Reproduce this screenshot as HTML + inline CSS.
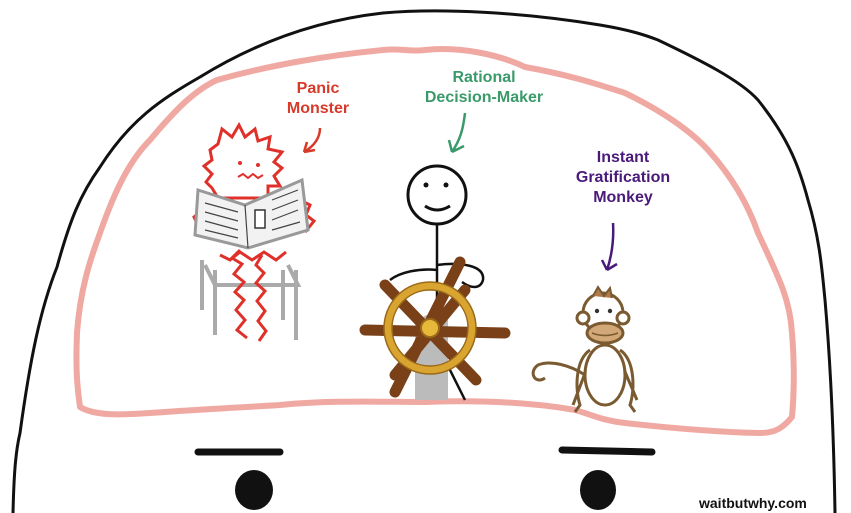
<!DOCTYPE html>
<html><head><meta charset="utf-8"><style>
html,body{margin:0;padding:0;background:#fff;}
svg{display:block}
text{font-family:"Liberation Sans",sans-serif;font-weight:bold;}
</style></head><body>
<svg width="851" height="513" viewBox="0 0 851 513" xmlns="http://www.w3.org/2000/svg">
<rect width="851" height="513" fill="#fff"/>
<!-- head -->
<path d="M13,513 C14,470 16,450 20,433 C30,360 40,310 57,267 C70,220 80,195 100,167 C130,120 160,100 200,77 C260,40 320,20 383,13 C440,8 520,12 600,25 C630,30 645,35 658,40 C700,60 740,80 758,100 C790,140 800,170 808,200 C820,240 822,270 825,300 C832,380 834,450 835,513" fill="none" stroke="#111" stroke-width="3"/>
<!-- brain -->
<path d="M80,407 C76,380 76,360 77,333 C80,290 90,260 100,233 C115,190 130,160 150,140 C175,110 195,90 217,80 C270,65 330,55 383,50 C400,48 410,52 425,50 C460,46 500,55 525,67 C570,75 600,85 625,93 C660,110 690,130 708,150 C735,180 750,210 758,233 C780,280 790,300 792,333 C795,370 794,395 792,417 C780,432 770,433 758,433 C720,432 670,428 625,423 C600,420 590,414 575,410 C530,402 480,400 425,402 C380,402 330,400 280,405 C230,408 190,410 150,413 C120,415 95,416 80,407 Z" fill="none" stroke="#f0a9a2" stroke-width="6" stroke-linejoin="round"/>
<!-- eyebrows -->
<path d="M198,452 L280,452" stroke="#111" stroke-width="7" stroke-linecap="round"/>
<path d="M562,450 L652,452" stroke="#111" stroke-width="7" stroke-linecap="round"/>
<!-- eyes -->
<ellipse cx="254" cy="490" rx="19" ry="20" fill="#111"/>
<ellipse cx="598" cy="490" rx="18" ry="20" fill="#111"/>
<text x="699" y="508" font-size="14" fill="#111">waitbutwhy.com</text>
<!-- labels -->
<text x="318" y="93" font-size="16" fill="#d83a2a" text-anchor="middle">Panic</text>
<text x="318" y="113" font-size="16" fill="#d83a2a" text-anchor="middle">Monster</text>
<path d="M320,128 C320,138 314,146 304,152 M304,152 l3,-10 M304,152 l11,-2" fill="none" stroke="#d83a2a" stroke-width="2.5"/>
<text x="484" y="82" font-size="16" fill="#3a9a6a" text-anchor="middle">Rational</text>
<text x="484" y="102" font-size="16" fill="#3a9a6a" text-anchor="middle">Decision-Maker</text>
<path d="M465,113 C463,130 460,140 452,152 M452,152 l-3,-12 M452,152 l12,-6" fill="none" stroke="#3a9a6a" stroke-width="2.5"/>
<text x="623" y="162" font-size="16" fill="#4a1a7a" text-anchor="middle">Instant</text>
<text x="623" y="182" font-size="16" fill="#4a1a7a" text-anchor="middle">Gratification</text>
<text x="623" y="202" font-size="16" fill="#4a1a7a" text-anchor="middle">Monkey</text>
<path d="M613,223 C614,240 612,255 607,270 M607,270 l-5,-10 M607,270 l10,-6" fill="none" stroke="#4a1a7a" stroke-width="2.5"/>
<!-- panic monster chair -->
<g stroke="#aaa" stroke-width="4" fill="none">
<path d="M202,260 L202,310 M215,270 L215,335 M283,270 L283,320 M296,270 L296,340 M205,265 L215,285 L298,285 L288,265"/>
</g>
<!-- monster head -->
<path d="M210,150 l8,-6 l4,-15 l10,8 l7,-12 l6,12 l10,-8 l3,12 l12,-4 l-2,12 l14,3 l-8,10 l8,6 l-8,8 l6,10 l-12,0 l0,12 l-50,0 l-6,-10 l-6,-6 l6,-8 l-8,-8 l8,-6 z" fill="#fff" stroke="#e0302a" stroke-width="3"/>
<circle cx="240" cy="163" r="2" fill="#e0302a"/><circle cx="258" cy="165" r="2" fill="#e0302a"/>
<path d="M238,177 l5,-3 l5,4 l5,-4 l5,4 l5,-3" fill="none" stroke="#e0302a" stroke-width="2"/>
<!-- legs/body -->
<path d="M240,250 l-8,8 l10,6 l-8,10 l10,8 l-9,10 l9,8 l-8,10 l9,10 l-8,10 l10,8 M262,255 l-6,10 l8,8 l-8,10 l9,8 l-8,10 l8,10 l-7,10 l8,10 l-7,10 M220,255 l10,5 l10,-8 l12,8 l12,-8 l12,8 l10,-8 M300,200 l10,5 l-4,10 l8,6 l-8,10 l-8,-4 M200,212 l-6,5 l4,8 l8,0" fill="none" stroke="#e0302a" stroke-width="3"/>
<!-- newspaper -->
<path d="M198,190 L245,205 L302,180 L308,230 L248,248 L195,235 Z" fill="#f2f2f2" stroke="#999" stroke-width="3"/>
<path d="M245,205 L248,248 M205,203 L238,212 M205,212 L238,221 M205,221 L238,230 M205,230 L238,238 M272,200 L298,190 M272,210 L298,200 M272,220 L298,210 M272,230 L300,222" stroke="#444" stroke-width="1.2"/>
<rect x="255" y="210" width="10" height="18" fill="#fff" stroke="#333" stroke-width="1.5"/>
<!-- stick man -->
<circle cx="437" cy="195" r="29" fill="#fff" stroke="#111" stroke-width="3"/>
<circle cx="426" cy="185" r="2.5" fill="#111"/><circle cx="446" cy="185" r="2.5" fill="#111"/>
<path d="M425,206 Q437,214 450,206" fill="none" stroke="#111" stroke-width="3"/>
<path d="M437,224 L437,300 M437,270 C420,268 400,272 390,280 M437,265 C460,262 485,265 483,280 C480,290 470,288 462,282 M437,300 L430,395 M440,350 L465,400" fill="none" stroke="#111" stroke-width="2.5"/>
<!-- post -->
<path d="M415,400 L415,325 Q430,305 448,320 L448,400 Z" fill="#bbb"/>
<!-- wheel -->
<g stroke="#7a4118" stroke-width="11" stroke-linecap="round">
<path d="M460,262 L395,392 M365,330 L505,333 M385,285 L476,380 M465,290 L395,375"/>
</g>
<circle cx="430" cy="328" r="42" fill="none" stroke="#d9a530" stroke-width="8"/>
<circle cx="430" cy="328" r="46" fill="none" stroke="#9a6a18" stroke-width="1.5"/>
<circle cx="430" cy="328" r="38" fill="none" stroke="#9a6a18" stroke-width="1.5"/>
<circle cx="430" cy="328" r="9" fill="#e8b83a" stroke="#9a6a18" stroke-width="2"/>
<!-- monkey -->
<g stroke="#7a5a30" stroke-width="3" fill="none">
<path d="M585,375 C570,365 550,360 538,365 C528,372 535,385 545,378"/>
<path d="M590,350 C575,360 575,390 580,405 L575,412 M620,350 C635,360 635,390 630,405 L635,412 M590,360 L573,405 M620,360 L637,400"/>
</g>
<ellipse cx="605" cy="375" rx="20" ry="30" fill="#fff" stroke="#7a5a30" stroke-width="3"/>
<circle cx="603" cy="313" r="20" fill="#fff" stroke="#7a5a30" stroke-width="3"/>
<circle cx="583" cy="318" r="6" fill="#fff" stroke="#7a5a30" stroke-width="3"/>
<circle cx="623" cy="318" r="6" fill="#fff" stroke="#7a5a30" stroke-width="3"/>
<path d="M593,296 L598,287 L604,296 L610,288 L612,298" fill="#b07a4a" stroke="#7a5a30" stroke-width="2"/>
<ellipse cx="605" cy="333" rx="18" ry="10" fill="#d2a878" stroke="#7a5a30" stroke-width="3"/>
<path d="M592,333 Q605,338 618,333" stroke="#7a5a30" stroke-width="1.5" fill="none"/>
<circle cx="597" cy="311" r="2.2" fill="#333"/><circle cx="610" cy="311" r="2.2" fill="#333"/>
</svg>
</body></html>
